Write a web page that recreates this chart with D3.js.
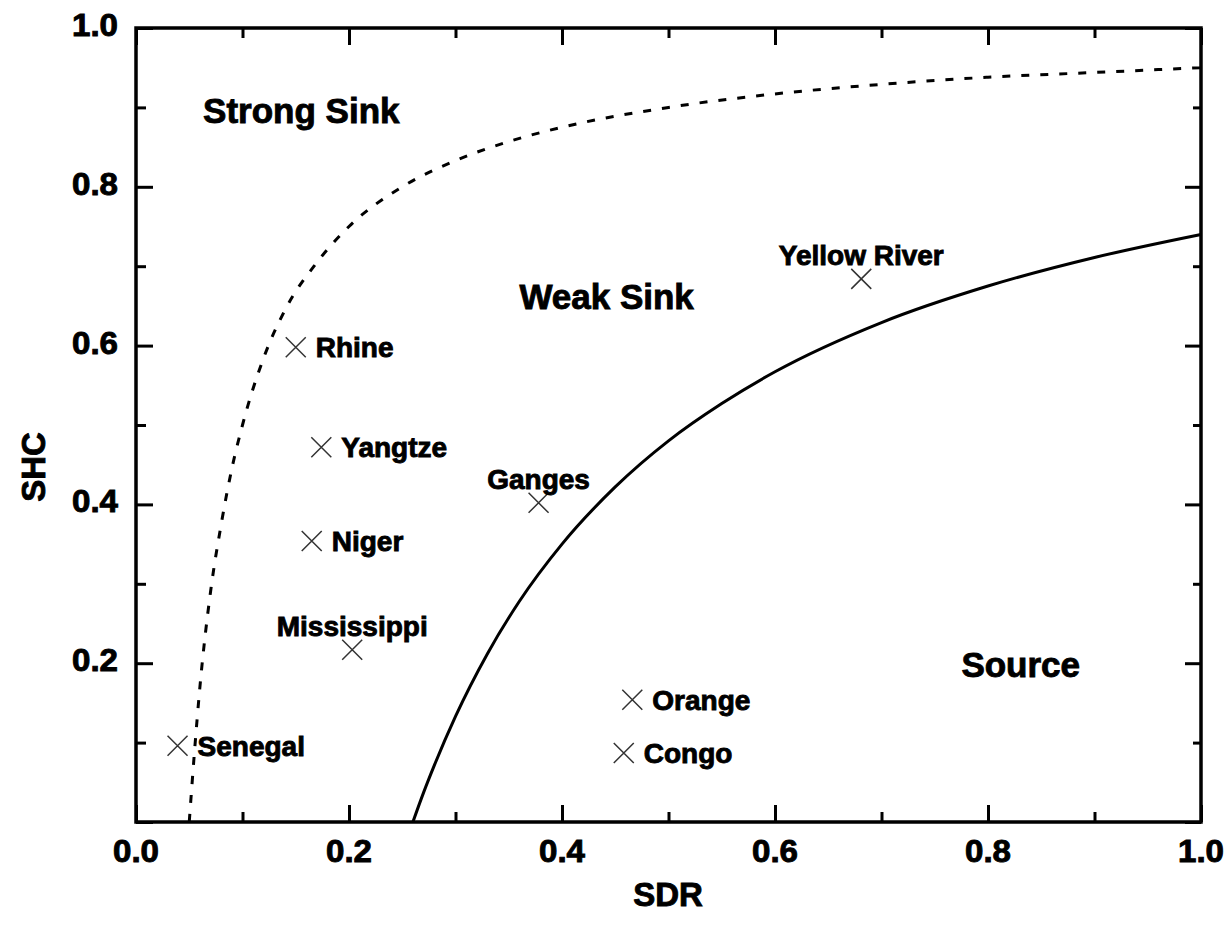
<!DOCTYPE html>
<html>
<head>
<meta charset="utf-8">
<script src="https://cdn.jsdelivr.net/npm/d3@7"></script>
<style>
  body { margin: 0; background: #fff; }
  text { font-family: "Liberation Sans", Arial, sans-serif; font-weight: bold; fill: #000; stroke: #000; stroke-width: 0.9px; }
</style>
</head>
<body>
<svg width="1227" height="932"></svg>
<script>
// rivers (SDR, SHC)
var rivers = ["Rhine", "Yangtze", "Niger", "Mississippi", "Senegal", "Ganges", "Orange", "Congo", "Yellow River"];
var sdr = [0.150, 0.174, 0.165, 0.203, 0.039, 0.378, 0.466, 0.458, 0.681];
var shc = [0.598, 0.472, 0.354, 0.217, 0.096, 0.402, 0.154, 0.087, 0.684];
var labelSide = ["right", "right", "right", "above", "right", "above", "right", "right", "above"];

// boundary curves
var sinkX = [0.05, 0.055, 0.06, 0.07, 0.08, 0.09, 0.1, 0.12, 0.14, 0.17, 0.2, 0.25, 0.3, 0.35, 0.4, 0.5, 0.6, 0.7, 0.8, 0.9, 1.0];
var sinkY = [0.0, 0.09, 0.17, 0.29, 0.375, 0.445, 0.5, 0.585, 0.645, 0.705, 0.75, 0.8, 0.833, 0.857, 0.875, 0.9, 0.917, 0.929, 0.938, 0.944, 0.95];
var sourceX = [0.26, 0.27, 0.28, 0.3, 0.33, 0.36, 0.4, 0.45, 0.5, 0.55, 0.6, 0.7, 0.8, 0.9, 1.0];
var sourceY = [0.0, 0.037, 0.071, 0.133, 0.212, 0.278, 0.35, 0.422, 0.48, 0.527, 0.567, 0.629, 0.675, 0.711, 0.74];

// region labels
var regions = ["Strong Sink", "Weak Sink", "Source"];
var regionX = [0.063, 0.360, 0.775];
var regionY = [0.880, 0.646, 0.183];

var majorTicks = [0.0, 0.2, 0.4, 0.6, 0.8, 1.0];
var minorTicks = [0.1, 0.3, 0.5, 0.7, 0.9];

var svg = d3.select("svg");
var plotLeft = 136, plotRight = 1201, plotTop = 28, plotBottom = 822;

var x = d3.scaleLinear().domain([0, 1]).range([plotLeft, plotRight]);
var y = d3.scaleLinear().domain([0, 1]).range([plotBottom, plotTop]);

var line = d3.line()
    .x(function(d) { return x(d[0]); })
    .y(function(d) { return y(d[1]); })
    .curve(d3.curveMonotoneX);

// curves
svg.append("path")
    .datum(d3.zip(sinkX, sinkY))
    .attr("d", line)
    .attr("fill", "none")
    .attr("stroke", "#000")
    .attr("stroke-width", 3)
    .attr("stroke-dasharray", "8,11");

svg.append("path")
    .datum(d3.zip(sourceX, sourceY))
    .attr("d", line)
    .attr("fill", "none")
    .attr("stroke", "#000")
    .attr("stroke-width", 3);

// frame and inward ticks
function tickAxis(axis, scale, tickVals, size) {
    return axis(scale).tickValues(tickVals).tickSize(-size).tickFormat("");
}

var gx = svg.append("g").attr("transform", "translate(0," + plotBottom + ")");
gx.call(tickAxis(d3.axisBottom, x, majorTicks, 17));
gx.append("g").call(tickAxis(d3.axisBottom, x, minorTicks, 10));

var gxt = svg.append("g").attr("transform", "translate(0," + plotTop + ")");
gxt.call(tickAxis(d3.axisTop, x, majorTicks, 17));
gxt.append("g").call(tickAxis(d3.axisTop, x, minorTicks, 10));

var gy = svg.append("g").attr("transform", "translate(" + plotLeft + ",0)");
gy.call(tickAxis(d3.axisLeft, y, majorTicks, 17));
gy.append("g").call(tickAxis(d3.axisLeft, y, minorTicks, 10));

var gyr = svg.append("g").attr("transform", "translate(" + plotRight + ",0)");
gyr.call(tickAxis(d3.axisRight, y, majorTicks, 16));
gyr.append("g").call(tickAxis(d3.axisRight, y, minorTicks, 8));

svg.selectAll(".domain").remove();
svg.selectAll(".tick line").attr("stroke", "#000").attr("stroke-width", 3);

svg.append("rect")
    .attr("x", plotLeft).attr("y", plotTop)
    .attr("width", plotRight - plotLeft).attr("height", plotBottom - plotTop)
    .attr("fill", "none").attr("stroke", "#000").attr("stroke-width", 3.5);

// tick labels
svg.selectAll(".xlab")
    .data(majorTicks)
    .enter().append("text")
    .attr("class", "xlab")
    .attr("x", function(d) { return x(d); })
    .attr("y", 862)
    .attr("text-anchor", "middle")
    .style("font-size", "31px")
    .attr("textLength", 46)
    .attr("lengthAdjust", "spacingAndGlyphs")
    .text(function(d) { return d.toFixed(1); });

svg.selectAll(".ylab")
    .data(majorTicks.filter(function(d) { return d > 0; }))
    .enter().append("text")
    .attr("class", "ylab")
    .attr("x", 118)
    .attr("y", function(d) { return y(d) + 8; })
    .attr("text-anchor", "end")
    .style("font-size", "31px")
    .attr("textLength", 46)
    .attr("lengthAdjust", "spacingAndGlyphs")
    .text(function(d) { return d.toFixed(1); });

// axis titles
svg.append("text")
    .attr("x", 668)
    .attr("y", 906)
    .attr("text-anchor", "middle")
    .style("font-size", "33px")
    .text("SDR");

svg.append("text")
    .attr("transform", "translate(45,467) rotate(-90)")
    .attr("text-anchor", "middle")
    .style("font-size", "33px")
    .text("SHC");

// region labels
svg.selectAll(".region")
    .data(regions)
    .enter().append("text")
    .attr("class", "region")
    .attr("x", function(d, i) { return x(regionX[i]); })
    .attr("y", function(d, i) { return y(regionY[i]); })
    .style("font-size", "35px")
    .text(function(d) { return d; });

// markers
var pts = svg.selectAll(".pt")
    .data(rivers)
    .enter().append("g")
    .attr("class", "pt")
    .attr("transform", function(d, i) { return "translate(" + x(sdr[i]) + "," + y(shc[i]) + ")"; });

pts.append("path")
    .attr("d", "M-10,-10L10,10M-10,10L10,-10")
    .attr("stroke", "#333")
    .attr("stroke-width", 1.5)
    .attr("fill", "none");

pts.append("text")
    .attr("x", function(d, i) { return labelSide[i] == "right" ? 20 : 0; })
    .attr("y", function(d, i) { return labelSide[i] == "right" ? 10 : -14; })
    .attr("text-anchor", function(d, i) { return labelSide[i] == "right" ? "start" : "middle"; })
    .style("font-size", "28px")
    .text(function(d) { return d; });
</script>
</body>
</html>
